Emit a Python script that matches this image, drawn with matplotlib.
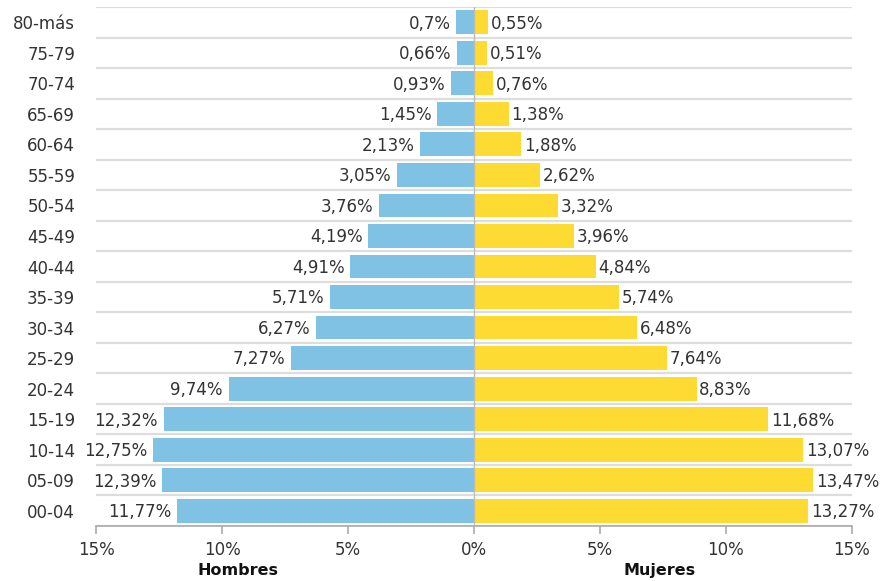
import matplotlib
matplotlib.use("Agg")
import matplotlib.pyplot as plt
import numpy as np

categories = ["00-04", "05-09", "10-14", "15-19", "20-24", "25-29", "30-34", "35-39",
              "40-44", "45-49", "50-54", "55-59", "60-64", "65-69", "70-74", "75-79", "80-más"]
hombres = [11.77, 12.39, 12.75, 12.32, 9.74, 7.27, 6.27, 5.71, 4.91, 4.19, 3.76, 3.05,
           2.13, 1.45, 0.93, 0.66, 0.7]
mujeres = [13.27, 13.47, 13.07, 11.68, 8.83, 7.64, 6.48, 5.74, 4.84, 3.96, 3.32, 2.62,
           1.88, 1.38, 0.76, 0.51, 0.55]
xticks = [-15, -10, -5, 0, 5, 10, 15]
xticklabels = ["15%", "10%", "5%", "0%", "5%", "10%", "15%"]

blue = "#80C2E3"
yellow = "#FDDB32"
txt = "#333333"
fs = 12

plt.rcParams['font.family'] = ['DejaVu Sans']
fig = plt.figure(figsize=(8.84, 5.81), dpi=100)
ax = fig.add_axes([96/884, 1-526/581, 756/884, 519/581])

y = np.arange(len(categories))
ax.barh(y, [-v for v in hombres], height=0.78, color=blue, zorder=3)
ax.barh(y, mujeres, height=0.78, color=yellow, zorder=3)

def fmt(v):
    return str(v).replace('.', ',') + "%"

for yi, v in zip(y, hombres):
    ax.annotate(fmt(v), (-v, yi), xytext=(-4, -1), textcoords="offset points",
                ha="right", va="center", fontsize=fs, color=txt)
for yi, v in zip(y, mujeres):
    ax.annotate(fmt(v), (v, yi), xytext=(2, -1), textcoords="offset points",
                ha="left", va="center", fontsize=fs, color=txt)

ax.set_xlim(-15, 15)
ax.set_ylim(-0.5, len(categories) - 0.5)
ax.set_yticks(y)
ax.set_yticklabels(categories, fontsize=fs, color=txt)
ax.tick_params(axis='y', length=0, pad=15)
ax.set_xticks(xticks)
ax.set_xticklabels(xticklabels, fontsize=fs, color=txt)
ax.tick_params(axis='x', length=6, color="#aaaaaa", width=1.2, pad=5)

for b in np.arange(-0.5, len(categories), 1.0):
    ax.axhline(b, color="#dddddd", linewidth=1.6, zorder=1)
ax.axvline(0, color="#bbbbbb", linewidth=1.0, zorder=4)

for s in ["top", "left", "right"]:
    ax.spines[s].set_visible(False)
ax.spines["bottom"].set_color("#aaaaaa")
ax.spines["bottom"].set_linewidth(1.2)

fig.text(238/884, 3/581, "Hombres", ha="center", va="bottom", fontsize=11.5,
         fontweight="bold", color="#111111")
fig.text(660/884, 3/581, "Mujeres", ha="center", va="bottom", fontsize=11.5,
         fontweight="bold", color="#111111")

fig.savefig("out.png", dpi=100)
